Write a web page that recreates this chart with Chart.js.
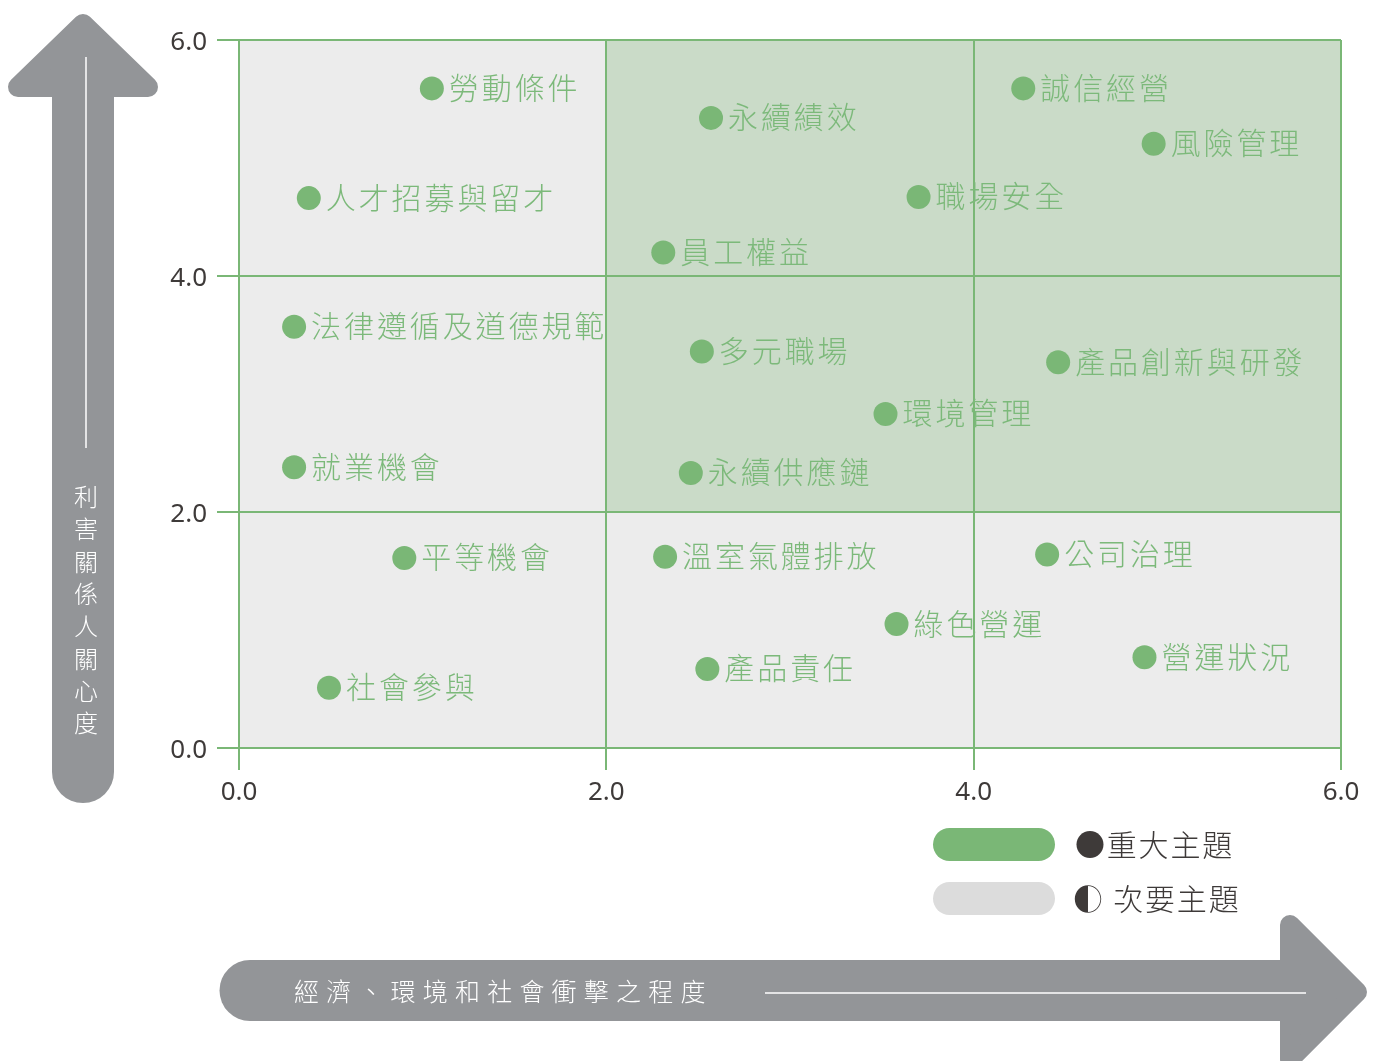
<!DOCTYPE html>
<html>
<head>
<meta charset="utf-8">
<script src="https://cdn.jsdelivr.net/npm/chart.js@4/dist/chart.umd.min.js"></script>
<style>
html,body{margin:0;padding:0;background:#fff;}
#wrap{width:1378px;height:1061px;position:relative;}
</style>
</head>
<body>
<div id="wrap"><canvas id="matrix"></canvas></div>
<script>
// topics, impact (x) and stakeholder concern (y)
const topicNames = [
  "勞動條件", "人才招募與留才", "法律遵循及道德規範", "就業機會", "平等機會", "社會參與",
  "永續績效", "員工權益", "職場安全", "誠信經營", "風險管理", "多元職場", "環境管理",
  "永續供應鏈", "產品創新與研發", "溫室氣體排放", "產品責任", "綠色營運", "公司治理", "營運狀況"
];
const impactValues = [
  1.05, 0.38, 0.30, 0.30, 0.90, 0.49,
  2.57, 2.31, 3.70, 4.27, 4.98, 2.52, 3.52,
  2.46, 4.46, 2.32, 2.55, 3.58, 4.40, 4.93
];
const concernValues = [
  5.59, 4.66, 3.57, 2.38, 1.61, 0.51,
  5.34, 4.20, 4.67, 5.59, 5.12, 3.36, 2.83,
  2.33, 3.27, 1.62, 0.67, 1.05, 1.64, 0.77
];
const tickValues = [0, 2, 4, 6];
const tickLabels = ["0.0", "2.0", "4.0", "6.0"];
// lower-left corners of the 2x2 cells
const majorCells = [[2, 4], [4, 4], [2, 2], [4, 2]];
const minorCells = [[0, 4], [0, 2], [0, 0], [2, 0], [4, 0]];
const legendLabels = ["●重大主題", "◐ 次要主題"];
const yAxisTitle = "利害關係人關心度";
const xAxisTitle = "經濟、環境和社會衝擊之程度";

const GREEN = "#7ab776";
const GREEN_TEXT = "#7cb97a";
const CELL_GREEN = "#cadbc8";
const CELL_GRAY = "#ececec";
const ARROW = "#939598";
const DARK = "#3e3a39";
const CJK = "'Noto Sans CJK TC', 'Noto Sans', sans-serif";

function roundedPoly(ctx, pts, r, color){
    ctx.beginPath();
    ctx.moveTo(pts[0][0], pts[0][1]);
    for (let i = 1; i < pts.length; i++) ctx.lineTo(pts[i][0], pts[i][1]);
    ctx.closePath();
    ctx.fillStyle = color;
    ctx.fill();
    ctx.strokeStyle = color;
    ctx.lineWidth = r * 2;
    ctx.lineJoin = "round";
    ctx.stroke();
}

function drawArrows(ctx){
    ctx.save();
    // vertical arrow
    ctx.fillStyle = ARROW;
    ctx.beginPath();
    ctx.moveTo(52, 90);
    ctx.lineTo(114, 90);
    ctx.lineTo(114, 772);
    ctx.arc(83, 772, 31, 0, Math.PI);
    ctx.closePath();
    ctx.fill();
    roundedPoly(ctx, [[83, 24], [18, 87], [148, 87]], 10, ARROW);

    ctx.strokeStyle = "#fff";
    ctx.lineWidth = 1.5;
    ctx.beginPath();
    ctx.moveTo(86, 57);
    ctx.lineTo(86, 448);
    ctx.stroke();

    ctx.fillStyle = "#fff";
    ctx.font = "300 24px " + CJK;
    ctx.textAlign = "center";
    ctx.textBaseline = "middle";
    Array.from(yAxisTitle).forEach((ch, i) => {
        ctx.fillText(ch, 86, 497 + i * 32.3);
    });

    // horizontal arrow
    ctx.fillStyle = ARROW;
    ctx.beginPath();
    ctx.moveTo(1292, 960);
    ctx.lineTo(250, 960);
    ctx.arc(250, 990.5, 30.5, -Math.PI / 2, Math.PI / 2, true);
    ctx.lineTo(1292, 1021);
    ctx.closePath();
    ctx.fill();
    roundedPoly(ctx, [[1357, 992], [1290, 925], [1290, 1059]], 10, ARROW);

    ctx.strokeStyle = "#fff";
    ctx.lineWidth = 1.5;
    ctx.beginPath();
    ctx.moveTo(765, 993);
    ctx.lineTo(1306, 993);
    ctx.stroke();

    ctx.fillStyle = "#fff";
    ctx.font = "300 25px " + CJK;
    ctx.textAlign = "left";
    ctx.letterSpacing = "7.2px";
    ctx.fillText(xAxisTitle, 294, 991);
    ctx.letterSpacing = "0px";
    ctx.restore();
}

function drawLegend(ctx){
    ctx.save();
    ctx.fillStyle = GREEN;
    ctx.beginPath();
    ctx.roundRect(933, 828, 122, 33, 16.5);
    ctx.fill();
    ctx.fillStyle = "#dcdcdc";
    ctx.beginPath();
    ctx.roundRect(933, 882, 122, 33, 16.5);
    ctx.fill();

    ctx.fillStyle = DARK;
    ctx.font = "300 30px " + CJK;
    ctx.textAlign = "left";
    ctx.textBaseline = "middle";
    ctx.letterSpacing = "1.8px";
    ctx.fillText(legendLabels[0], 1075, 845);
    ctx.fillText(legendLabels[1], 1073, 899);
    ctx.letterSpacing = "0px";
    ctx.restore();
}

const backgroundPlugin = {
    id: "background",
    beforeDraw(chart){
        const ctx = chart.ctx;
        const x = chart.scales.x, y = chart.scales.y;
        drawArrows(ctx);
        ctx.save();
        const fillCell = (c, color) => {
            const x0 = x.getPixelForValue(c[0]), x1 = x.getPixelForValue(c[0] + 2);
            const y0 = y.getPixelForValue(c[1] + 2), y1 = y.getPixelForValue(c[1]);
            ctx.fillStyle = color;
            ctx.fillRect(x0, y0, x1 - x0, y1 - y0);
        };
        majorCells.forEach(c => fillCell(c, CELL_GREEN));
        minorCells.forEach(c => fillCell(c, CELL_GRAY));
        ctx.restore();
    },
    afterDraw(chart){
        drawLegend(chart.ctx);
    }
};

const labelPlugin = {
    id: "pointLabels",
    afterDatasetsDraw(chart){
        const ctx = chart.ctx;
        const meta = chart.getDatasetMeta(0);
        ctx.save();
        ctx.fillStyle = GREEN_TEXT;
        ctx.font = "300 30px " + CJK;
        ctx.letterSpacing = "2.9px";
        ctx.textAlign = "left";
        ctx.textBaseline = "middle";
        meta.data.forEach((pt, i) => {
            ctx.fillText(topicNames[i], pt.x + 17, pt.y - 1);
        });
        ctx.letterSpacing = "0px";
        ctx.restore();
    }
};

const gridOpts = {
    color: GREEN,
    lineWidth: 2,
    tickLength: 22,
    tickColor: GREEN
};

new Chart(document.getElementById("matrix"), {
    type: "scatter",
    data: {
        datasets: [{
            data: topicNames.map((n, i) => ({x: impactValues[i], y: concernValues[i]})),
            backgroundColor: GREEN,
            borderWidth: 0,
            pointRadius: 12,
            pointHoverRadius: 12
        }]
    },
    options: {
        responsive: true,
        maintainAspectRatio: false,
        animation: false,
        layout: {padding: {left: 160, right: 37, top: 40, bottom: 253}},
        plugins: {legend: {display: false}, tooltip: {enabled: false}},
        scales: {
            x: {
                type: "linear",
                min: 0, max: 6,
                afterBuildTicks(scale){ scale.ticks = tickValues.map(v => ({value: v})); },
                afterFit(scale){ scale.height = 60; },
                grid: gridOpts,
                border: {color: GREEN, width: 2},
                ticks: {
                    padding: 7,
                    color: DARK,
                    font: {family: "'Noto Sans', sans-serif", size: 26},
                    callback: (v) => tickLabels[tickValues.indexOf(v)]
                }
            },
            y: {
                type: "linear",
                min: 0, max: 6,
                afterBuildTicks(scale){ scale.ticks = tickValues.map(v => ({value: v})); },
                afterFit(scale){ scale.width = 79; },
                grid: gridOpts,
                border: {color: GREEN, width: 2},
                ticks: {
                    padding: 10,
                    labelOffset: 3,
                    color: DARK,
                    font: {family: "'Noto Sans', sans-serif", size: 26},
                    callback: (v) => tickLabels[tickValues.indexOf(v)]
                }
            }
        }
    },
    plugins: [backgroundPlugin, labelPlugin]
});
</script>
</body>
</html>
